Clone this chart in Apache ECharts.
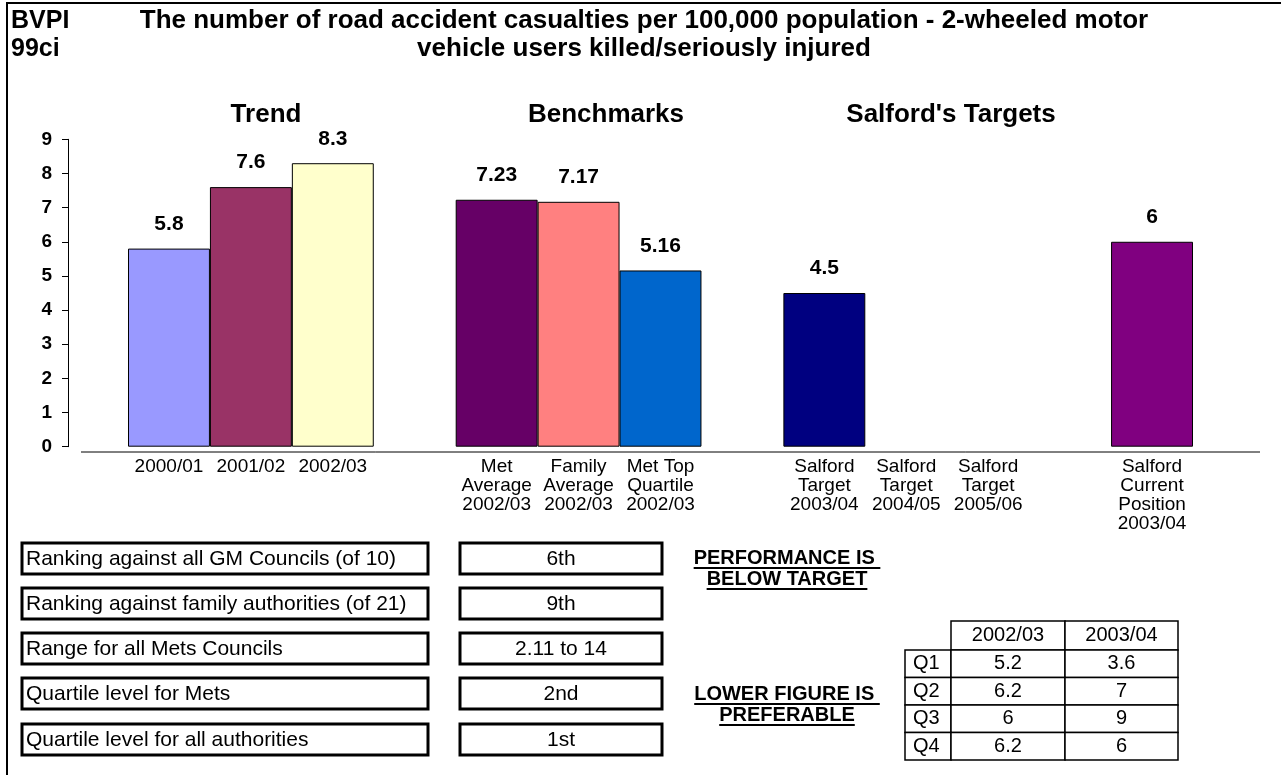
<!DOCTYPE html>
<html><head><meta charset="utf-8">
<script src="https://cdn.jsdelivr.net/npm/echarts@6/dist/echarts.min.js"></script>
<style>html,body{margin:0;padding:0;background:#fff}#c{width:1281px;height:775px}</style>
</head><body><div id="c"></div>
<script>
// ---------- data ----------
const categories = ['2000/01','2001/02','2002/03','',
  'Met\nAverage\n2002/03','Family\nAverage\n2002/03','Met Top\nQuartile\n2002/03','',
  'Salford\nTarget\n2003/04','Salford\nTarget\n2004/05','Salford\nTarget\n2005/06','',
  'Salford\nCurrent\nPosition\n2003/04'];
const values = [5.8, 7.6, 8.3, null, 7.23, 7.17, 5.16, null, 4.5, null, null, null, 6];
const barColors = ['#9999FF','#993366','#FFFFCC',null,'#660066','#FF8080','#0066CC',null,'#000080',null,null,null,'#800080'];
const yAxisMin = 0, yAxisMax = 9, yAxisStep = 1;
const titleCode = 'BVPI\n99ci';
const titleText = 'The number of road accident casualties per 100,000 population - 2-wheeled motor\nvehicle users killed/seriously injured';
const groupHeadings = ['Trend', 'Benchmarks', "Salford's Targets"];
const rankLabels = ['Ranking against all GM Councils (of 10)','Ranking against family authorities (of 21)','Range for all Mets Councils','Quartile level for Mets','Quartile level for all authorities'];
const rankValues = ['6th','9th','2.11 to 14','2nd','1st'];
const noteTop = ['PERFORMANCE IS ', 'BELOW TARGET'];
const noteBottom = ['LOWER FIGURE IS ', 'PREFERABLE'];
const quartileYears = ['2002/03','2003/04'];
const quartileNames = ['Q1','Q2','Q3','Q4'];
const quartile0203 = ['5.2','6.2','6','6.2'];
const quartile0304 = ['3.6','7','9','6'];

// ---------- layout / style ----------
const FONT = "'Liberation Sans', Arial, Helvetica, sans-serif";
const chart = echarts.init(document.getElementById('c'));
const mctx = document.createElement('canvas').getContext('2d');
function textW(t, size, weight){ mctx.font = (weight||'normal') + ' ' + size + 'px ' + FONT; return mctx.measureText(t).width; }

const g = [];
// frame (top + left)
g.push({type:'line', shape:{x1:7, y1:3, x2:1281, y2:3}, style:{stroke:'#000', lineWidth:2}});
g.push({type:'line', shape:{x1:7, y1:2, x2:7, y2:775}, style:{stroke:'#000', lineWidth:2}});
// titles
g.push({type:'text', x:11, y:7, style:{text:titleCode, font:'bold 25px '+FONT, fill:'#000', lineHeight:28}});
g.push({type:'text', x:644, y:7, style:{text:titleText, font:'bold 26px '+FONT, fill:'#000', align:'center', lineHeight:28}});
const headX = [266, 606, 951];
groupHeadings.forEach((h,i)=>g.push({type:'text', x:headX[i], y:115, style:{text:h, font:'bold 26px '+FONT, fill:'#000', align:'center', verticalAlign:'middle'}}));
// category-axis baseline
g.push({type:'line', shape:{x1:81, y1:452, x2:1260, y2:452}, style:{stroke:'#000', lineWidth:1}});

// ranking boxes
const boxTops = [543, 588, 633, 678, 724];
rankLabels.forEach((t,i)=>{
  const y = boxTops[i];
  g.push({type:'rect', shape:{x:22, y:y, width:406, height:31}, style:{fill:'#fff', stroke:'#000', lineWidth:3}});
  g.push({type:'text', x:26, y:y+16, style:{text:t, font:'21px '+FONT, fill:'#000', verticalAlign:'middle'}});
  g.push({type:'rect', shape:{x:460, y:y, width:202, height:31}, style:{fill:'#fff', stroke:'#000', lineWidth:3}});
  g.push({type:'text', x:561, y:y+16, style:{text:rankValues[i], font:'21px '+FONT, fill:'#000', align:'center', verticalAlign:'middle'}});
});
// notes with underline
function note(lines, cx, y0, step){
  lines.forEach((t,i)=>{
    const y = y0 + i*step;
    g.push({type:'text', x:cx, y:y, style:{text:t, font:'bold 20px '+FONT, fill:'#000', align:'center', verticalAlign:'middle'}});
    const w = textW(t, 20, 'bold');
    g.push({type:'line', shape:{x1:cx-w/2, y1:y+10, x2:cx+w/2, y2:y+10}, style:{stroke:'#000', lineWidth:2}});
  });
}
note(noteTop, 787, 558, 21);
note(noteBottom, 787, 694, 21);

// quartile table
const qColX = [905, 951, 1065, 1178];
const hdrTop = 621, hdrBot = 650, rowH = 27.5;
quartileYears.forEach((yr,j)=>{
  g.push({type:'rect', shape:{x:qColX[j+1], y:hdrTop, width:qColX[j+2]-qColX[j+1], height:hdrBot-hdrTop}, style:{fill:'#fff', stroke:'#000', lineWidth:1.5}});
  g.push({type:'text', x:(qColX[j+1]+qColX[j+2])/2, y:(hdrTop+hdrBot)/2, style:{text:yr, font:'20px '+FONT, fill:'#000', align:'center', verticalAlign:'middle'}});
});
quartileNames.forEach((q,i)=>{
  const y = hdrBot + i*rowH;
  const cells = [q, quartile0203[i], quartile0304[i]];
  cells.forEach((c,j)=>{
    g.push({type:'rect', shape:{x:qColX[j], y:y, width:qColX[j+1]-qColX[j], height:rowH}, style:{fill:'#fff', stroke:'#000', lineWidth:1.5}});
    g.push({type:'text', x: j===0 ? qColX[0]+8 : (qColX[j]+qColX[j+1])/2, y:y+rowH/2, style:{text:c, font:'20px '+FONT, fill:'#000', align: j===0?'left':'center', verticalAlign:'middle'}});
  });
});

const option = {
  backgroundColor:'#fff',
  animation:false,
  textStyle:{fontFamily:FONT},
  grid:{left:128, top:139.3, width:1065, height:307.4, containLabel:false},
  xAxis:{type:'category', data:categories,
    axisLine:{show:false}, axisTick:{show:false},
    axisLabel:{interval:0, color:'#000', fontSize:19, lineHeight:19, margin:11, fontFamily:FONT}},
  yAxis:{type:'value', min:yAxisMin, max:yAxisMax, interval:yAxisStep, offset:60,
    axisLine:{show:true, lineStyle:{color:'#000', width:1}},
    axisTick:{show:true, inside:false, length:6, lineStyle:{color:'#000'}},
    axisLabel:{color:'#000', fontWeight:'bold', fontSize:19, margin:16, fontFamily:FONT},
    splitLine:{show:false}},
  series:[{type:'bar', barWidth:'100%', barGap:'0%', barCategoryGap:'0%',
    data: values.map((v,i)=> v==null ? null : {value:v, itemStyle:{color:barColors[i], borderColor:'#000', borderWidth:1}}),
    label:{show:true, position:'top', distance:14, color:'#000', fontWeight:'bold', fontSize:21, fontFamily:FONT},
    emphasis:{disabled:true}}],
  graphic: g
};
chart.setOption(option);
</script></body></html>
